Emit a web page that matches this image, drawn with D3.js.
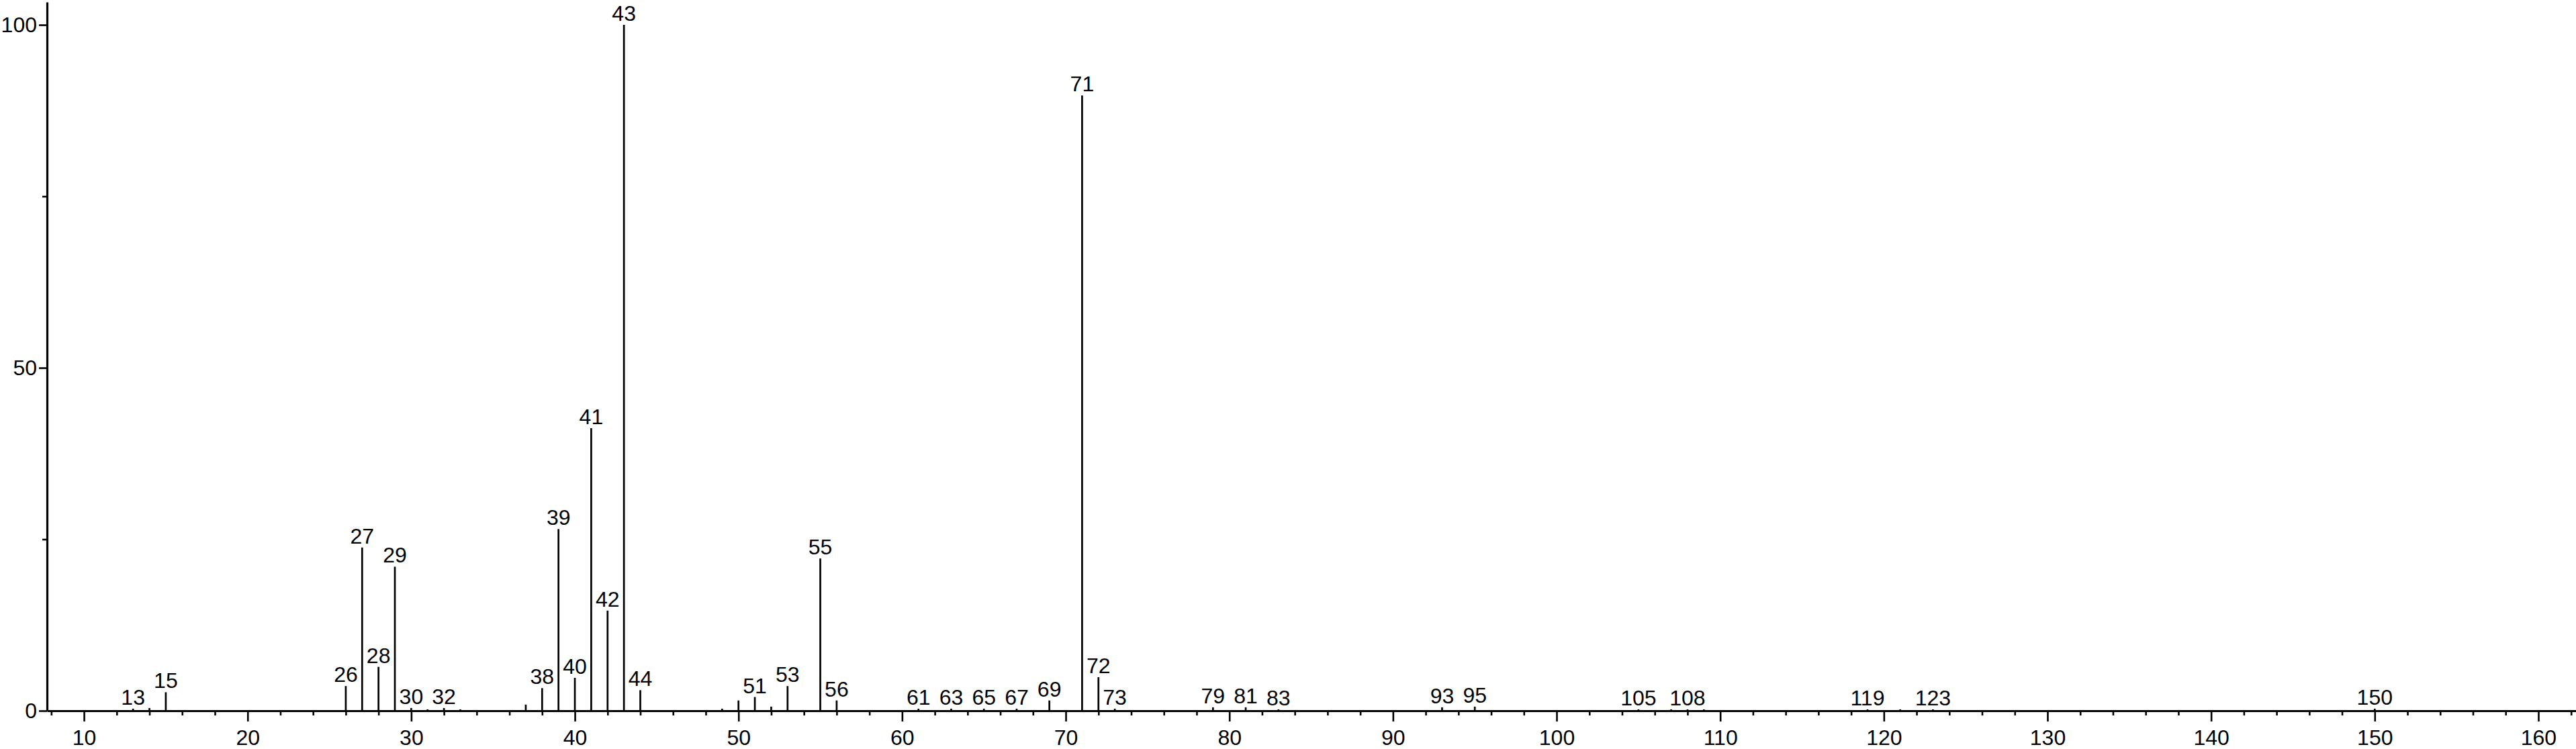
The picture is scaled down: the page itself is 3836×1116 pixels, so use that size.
<!DOCTYPE html>
<html>
<head>
<meta charset="utf-8">
<script src="https://cdn.jsdelivr.net/npm/d3@7"></script>
<style>
  html, body { margin: 0; padding: 0; background: #fff; }
  svg { display: block; }
  text { font-family: "Liberation Sans", Arial, sans-serif; fill: #000; }
</style>
</head>
<body>
<svg id="chart" width="3836" height="1116"></svg>
<script>
// m/z values of the peaks
const mz = [13, 14, 15, 26, 27, 28, 29, 30, 31, 32, 33, 37, 38, 39, 40, 41, 42, 43, 44,
            49, 50, 51, 52, 53, 55, 56, 61, 63, 65, 67, 69, 71, 72, 73, 79, 81, 83,
            93, 95, 105, 107, 108, 109, 119, 121, 123, 150];
// relative intensity (%)
const intensity = [0.3, 0.4, 2.7, 3.6, 23.8, 6.4, 21.0, 0.4, 0.2, 0.4, 0.2, 0.9, 3.3, 26.5, 4.8, 41.2, 14.6, 100, 3.0,
                   0.3, 1.5, 2.0, 0.6, 3.6, 22.2, 1.5, 0.3, 0.3, 0.3, 0.3, 1.5, 89.7, 4.9, 0.3, 0.5, 0.5, 0.2,
                   0.5, 0.6, 0.2, 0.2, 0.2, 0.2, 0.2, 0.2, 0.2, 0.3];
// peaks that carry an m/z label
const labeledMz = [13, 15, 26, 27, 28, 29, 30, 32, 38, 39, 40, 41, 42, 43, 44, 51, 53, 55, 56,
                   61, 63, 65, 67, 69, 71, 72, 73, 79, 81, 83, 93, 95, 105, 108, 119, 123, 150];
// axis ticks
const xMajorTicks = [10, 20, 30, 40, 50, 60, 70, 80, 90, 100, 110, 120, 130, 140, 150, 160];
const xMinorTicks = d3.range(8, 163, 2).filter(d => d % 10 !== 0);
const yMajorTicks = [0, 50, 100];
const yMinorTicks = [25, 75];

const svg = d3.select("#chart");
const W = 3836, H = 1116;
svg.append("rect").attr("width", W).attr("height", H).attr("fill", "#fff");

const x = d3.scaleLinear().domain([7.74, 162.3]).range([70, 3836]);
const y = d3.scaleLinear().domain([0, 103.33]).range([1059, 3]);

const peaks = mz.map((m, i) => ({ m, v: intensity[i], label: labeledMz.includes(m) }));

// peaks
svg.append("g").selectAll("line").data(peaks).join("line")
  .attr("x1", d => x(d.m)).attr("x2", d => x(d.m))
  .attr("y1", y(0)).attr("y2", d => y(d.v))
  .attr("stroke", "#000").attr("stroke-width", 2.7);

// peak labels
svg.append("g").selectAll("text").data(peaks.filter(d => d.label)).join("text")
  .attr("x", d => x(d.m)).attr("y", d => y(d.v) - 6)
  .attr("text-anchor", "middle")
  .attr("font-size", 32)
  .text(d => d.m);

// x axis minor ticks
const xMinor = svg.append("g").attr("transform", `translate(0,${y(0)})`)
  .call(d3.axisBottom(x).tickValues(xMinorTicks).tickSize(7).tickSizeOuter(0).tickFormat(""));
xMinor.select(".domain").remove();
xMinor.selectAll("line").attr("stroke-width", 2.6);

// x axis major
const xAxis = svg.append("g").attr("transform", `translate(0,${y(0)})`)
  .call(d3.axisBottom(x).tickValues(xMajorTicks).tickSize(16).tickSizeOuter(0).tickPadding(12));
xAxis.select(".domain").attr("stroke-width", 3.2);
xAxis.selectAll(".tick line").attr("stroke-width", 2.6);
xAxis.selectAll("text").attr("font-size", 32).attr("font-family", "Liberation Sans, Arial, sans-serif").attr("fill", "#000");

// y axis minor ticks
const yMinor = svg.append("g").attr("transform", `translate(${x.range()[0]},0)`)
  .call(d3.axisLeft(y).tickValues(yMinorTicks).tickSize(7).tickSizeOuter(0).tickFormat(""));
yMinor.select(".domain").remove();
yMinor.selectAll("line").attr("stroke-width", 2.6);

// y axis major
const yAxis = svg.append("g").attr("transform", `translate(${x.range()[0]},0)`)
  .call(d3.axisLeft(y).tickValues(yMajorTicks).tickSize(12).tickSizeOuter(0).tickPadding(3));
yAxis.select(".domain").attr("stroke-width", 3.2);
yAxis.selectAll(".tick line").attr("stroke-width", 2.6);
yAxis.selectAll("text").attr("font-size", 32).attr("font-family", "Liberation Sans, Arial, sans-serif").attr("fill", "#000");
</script>
</body>
</html>
